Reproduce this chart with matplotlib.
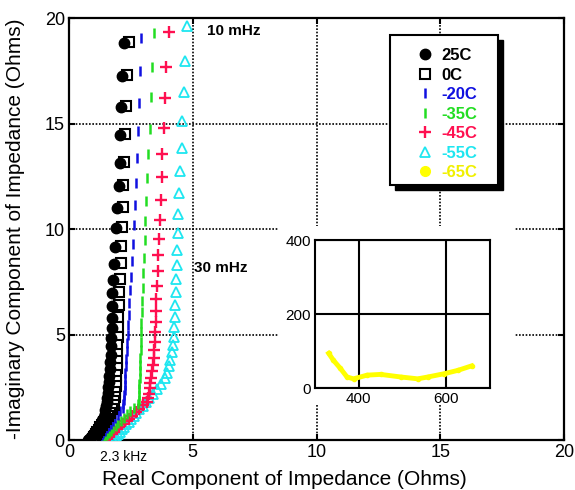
import matplotlib
matplotlib.use("Agg")
import matplotlib.pyplot as plt
from matplotlib.patches import Rectangle

plt.rcParams['font.family'] = ['Liberation Sans', 'DejaVu Sans']

# 25C - filled black circles
y25 = [18.8, 17.25, 15.8, 14.45, 13.15, 12.05, 11.0, 10.05, 9.15, 8.35, 7.6, 6.95, 6.35, 5.8,
       5.3, 4.85, 4.45, 4.05, 3.7, 3.35, 3.05, 2.75, 2.5, 2.25, 2.0, 1.8, 1.6, 1.42, 1.25, 1.1,
       0.95, 0.82, 0.7, 0.58, 0.47, 0.37, 0.28, 0.2, 0.12, 0.05, 0.0]
x25 = [2.24, 2.15, 2.1, 2.07, 2.05, 2.0, 1.95, 1.9, 1.84, 1.8, 1.77, 1.75, 1.74, 1.73,
       1.72, 1.71, 1.7, 1.68, 1.66, 1.64, 1.62, 1.6, 1.58, 1.56, 1.54, 1.52, 1.5, 1.47, 1.44, 1.4,
       1.35, 1.3, 1.24, 1.18, 1.12, 1.06, 1.0, 0.94, 0.88, 0.82, 0.76]

# 0C - open black squares
y0 = [18.85, 17.3, 15.85, 14.5, 13.2, 12.1, 11.05, 10.1, 9.2, 8.4, 7.65, 7.0, 6.4, 5.85,
      5.35, 4.9, 4.5, 4.1, 3.75, 3.4, 3.1, 2.8, 2.55, 2.3, 2.05, 1.85, 1.65, 1.47, 1.3, 1.14,
      0.99, 0.85, 0.72, 0.6, 0.49, 0.39, 0.3, 0.21, 0.13, 0.06, 0.0]
x0 = [2.42, 2.36, 2.31, 2.27, 2.23, 2.2, 2.17, 2.15, 2.12, 2.09, 2.06, 2.03, 2.01, 1.99,
      1.97, 1.96, 1.95, 1.94, 1.93, 1.92, 1.91, 1.9, 1.88, 1.86, 1.84, 1.82, 1.8, 1.72, 1.64, 1.56,
      1.48, 1.41, 1.34, 1.27, 1.21, 1.15, 1.1, 1.05, 1.01, 0.98, 0.96]

# -20C - blue bars
y20 = [19.05, 17.5, 16.0, 14.65, 13.35, 12.2, 11.15, 10.2, 9.3, 8.5, 7.75, 7.1, 6.5, 5.95,
       5.45, 5.0, 4.6, 4.2, 3.85, 3.5, 3.2, 2.9, 2.62, 2.36, 2.12, 1.9, 1.7, 1.52, 1.36, 1.2,
       1.05, 0.91, 0.78, 0.66, 0.55, 0.44, 0.34, 0.25, 0.16, 0.08, 0.0]
x20 = [2.92, 2.88, 2.84, 2.8, 2.74, 2.69, 2.65, 2.61, 2.57, 2.53, 2.5, 2.47, 2.44, 2.42,
       2.4, 2.37, 2.35, 2.33, 2.31, 2.29, 2.28, 2.27, 2.26, 2.25, 2.24, 2.22, 2.2, 2.17, 2.06, 1.96,
       1.86, 1.76, 1.68, 1.6, 1.52, 1.45, 1.39, 1.33, 1.27, 1.21, 1.16]

# -35C - green bars
y35 = [19.3, 17.7, 16.25, 14.75, 13.55, 12.4, 11.35, 10.4, 9.5, 8.65, 7.9, 7.2, 6.6, 6.05,
       5.55, 5.1, 4.65, 4.25, 3.9, 3.55, 3.25, 2.95, 2.65, 2.4, 2.15, 1.92, 1.72, 1.54, 1.37, 1.21,
       1.06, 0.92, 0.79, 0.67, 0.56, 0.45, 0.35, 0.26, 0.17, 0.08, 0.0]
x35 = [3.44, 3.37, 3.33, 3.27, 3.2, 3.16, 3.12, 3.09, 3.06, 3.03, 3.0, 2.97, 2.95, 2.93,
       2.92, 2.91, 2.9, 2.89, 2.88, 2.87, 2.86, 2.85, 2.84, 2.83, 2.82, 2.81, 2.78, 2.62, 2.48, 2.34,
       2.22, 2.1, 1.99, 1.89, 1.79, 1.7, 1.62, 1.54, 1.46, 1.39, 1.32]

# -45C - red crosses
y45 = [19.35, 17.7, 16.2, 14.8, 13.55, 12.45, 11.4, 10.45, 9.55, 8.75, 8.0, 7.3, 6.7, 6.1,
       5.6, 5.1, 4.65, 4.25, 3.9, 3.55, 3.25, 2.95, 2.7, 2.45, 2.2, 2.0, 1.82, 1.64, 1.47, 1.31,
       1.16, 1.02, 0.88, 0.75, 0.63, 0.51, 0.4, 0.3, 0.2, 0.1, 0.0]
x45 = [4.04, 3.93, 3.88, 3.84, 3.77, 3.74, 3.71, 3.66, 3.62, 3.6, 3.58, 3.55, 3.53, 3.51,
       3.5, 3.48, 3.46, 3.44, 3.42, 3.39, 3.36, 3.32, 3.29, 3.26, 3.23, 3.2, 3.17, 3.0, 2.84, 2.69,
       2.54, 2.41, 2.28, 2.15, 2.04, 1.92, 1.82, 1.73, 1.63, 1.54, 1.44]

# -55C - cyan open triangles
y55 = [19.65, 17.95, 16.5, 15.1, 13.85, 12.75, 11.7, 10.7, 9.8, 9.0, 8.3, 7.65, 7.0, 6.4,
       5.85, 5.35, 4.9, 4.5, 4.15, 3.8, 3.5, 3.2, 2.92, 2.66, 2.42, 2.2, 1.99, 1.8, 1.62, 1.45,
       1.29, 1.14, 1.0, 0.87, 0.74, 0.62, 0.5, 0.39, 0.28, 0.18, 0.09, 0.0]
x55 = [4.75, 4.68, 4.64, 4.57, 4.55, 4.47, 4.44, 4.42, 4.41, 4.38, 4.36, 4.33, 4.31, 4.3,
       4.28, 4.26, 4.24, 4.2, 4.16, 4.1, 4.04, 3.97, 3.88, 3.7, 3.54, 3.4, 3.25, 3.1, 2.97, 2.84,
       2.72, 2.61, 2.5, 2.41, 2.31, 2.22, 2.14, 2.06, 1.98, 1.9, 1.84, 1.77]

# -65C - yellow, only inside the inset
x65 = [331, 342, 358, 373, 388, 419, 450, 496, 535, 558, 596, 627, 658]
y65 = [94, 75, 53, 30, 25, 35, 37, 30, 25, 30, 39, 48, 60]

ticks_main = [0, 5, 10, 15, 20]

fig = plt.figure(figsize=(5.75, 4.9), dpi=100)
ax = fig.add_axes([0.12, 0.102, 0.861, 0.861])

# white area behind the inset, hides the grid there
ax.add_patch(Rectangle((8.5, 1.66), 9.5, 8.5, facecolor='white', edgecolor='none', zorder=1))

ax.plot(x55, y55, linestyle='none', marker='^', ms=7, mfc='none', mec='#1ee6f0', mew=1.3,
        label='-55C', zorder=3)
ax.plot(x45, y45, linestyle='none', marker='+', ms=8.5, mec='#ff1050', mew=1.7,
        label='-45C', zorder=4)
ax.plot(x35, y35, linestyle='none', marker='|', ms=7.5, mec='#22dd22', mew=1.8,
        label='-35C', zorder=5)
ax.plot(x20, y20, linestyle='none', marker='|', ms=7.5, mec='#1010e0', mew=1.8,
        label='-20C', zorder=6)
ax.plot(x0, y0, linestyle='none', marker='s', ms=7, mfc='white', mec='black', mew=1.5,
        label='0C', zorder=7)
ax.plot(x25, y25, linestyle='none', marker='o', ms=7.5, mfc='black', mec='black',
        label='25C', zorder=8)
ax.plot(x65, y65, linestyle='none', marker='o', ms=7, mfc='#ffff00', mec='#ffff00',
        label='-65C')

ax.set_xlim(0, 20)
ax.set_ylim(0, 20)
ax.set_xticks(ticks_main)
ax.set_yticks(ticks_main)
ax.set_axisbelow(True)
ax.grid(True, color='black', linestyle=(0, (1, 1)), linewidth=1.2)
ax.tick_params(direction='in', length=4, width=1.5, labelsize=13, top=True, right=True, pad=3)
for s in ax.spines.values():
    s.set_linewidth(1.6)
ax.set_xlabel('Real Component of Impedance (Ohms)', fontsize=15)
ax.xaxis.set_label_coords(0.436, -0.07)
ax.set_ylabel('-Imaginary Component of Impedance (Ohms)', fontsize=15, labelpad=14)

ax.text(5.56, 19.4, '10 mHz', fontsize=11, fontweight='bold', va='center')
ax.text(5.05, 8.15, '30 mHz', fontsize=11, fontweight='bold', va='center')
ax.text(1.24, -0.82, '2.3 kHz', fontsize=10, va='center', clip_on=False)

# legend frame with solid black drop shadow
ax.add_patch(Rectangle((0.658, 0.592), 0.219, 0.356, transform=ax.transAxes,
                       facecolor='black', edgecolor='black', zorder=9, clip_on=False))
ax.add_patch(Rectangle((0.648, 0.604), 0.219, 0.356, transform=ax.transAxes,
                       facecolor='white', edgecolor='black', linewidth=1.5, zorder=10,
                       clip_on=False))

handles, labels = ax.get_legend_handles_labels()
order = ['25C', '0C', '-20C', '-35C', '-45C', '-55C', '-65C']
hmap = dict(zip(labels, handles))
colors = ['black', 'black', '#1010e0', '#22dd22', '#ff1050', '#1ee6f0', '#f0f000']
leg = ax.legend([hmap[k] for k in order], order, loc='upper left', bbox_to_anchor=(0.702, 0.929),
                frameon=False, numpoints=1, borderpad=0, borderaxespad=0,
                handlelength=1.0, handletextpad=0.46, labelspacing=0.27,
                prop={'size': 12, 'weight': 'bold'}, labelcolor=colors)
leg.set_zorder(11)

axin = fig.add_axes([0.548, 0.208, 0.304, 0.302])
axin.plot(x65, y65, color='#ffff00', linewidth=3.5, marker='o', ms=3, mfc='#ffff00', mec='#ffff00')
axin.set_xlim(300, 700)
axin.set_ylim(0, 400)
axin.set_xticks([400, 600])
axin.set_yticks([0, 200, 400])
axin.set_axisbelow(True)
axin.grid(True, color='black', linestyle='-', linewidth=1.5)
axin.tick_params(length=0, labelsize=11, pad=3)
for s in axin.spines.values():
    s.set_linewidth(1.5)

fig.savefig('out.png', dpi=100)
